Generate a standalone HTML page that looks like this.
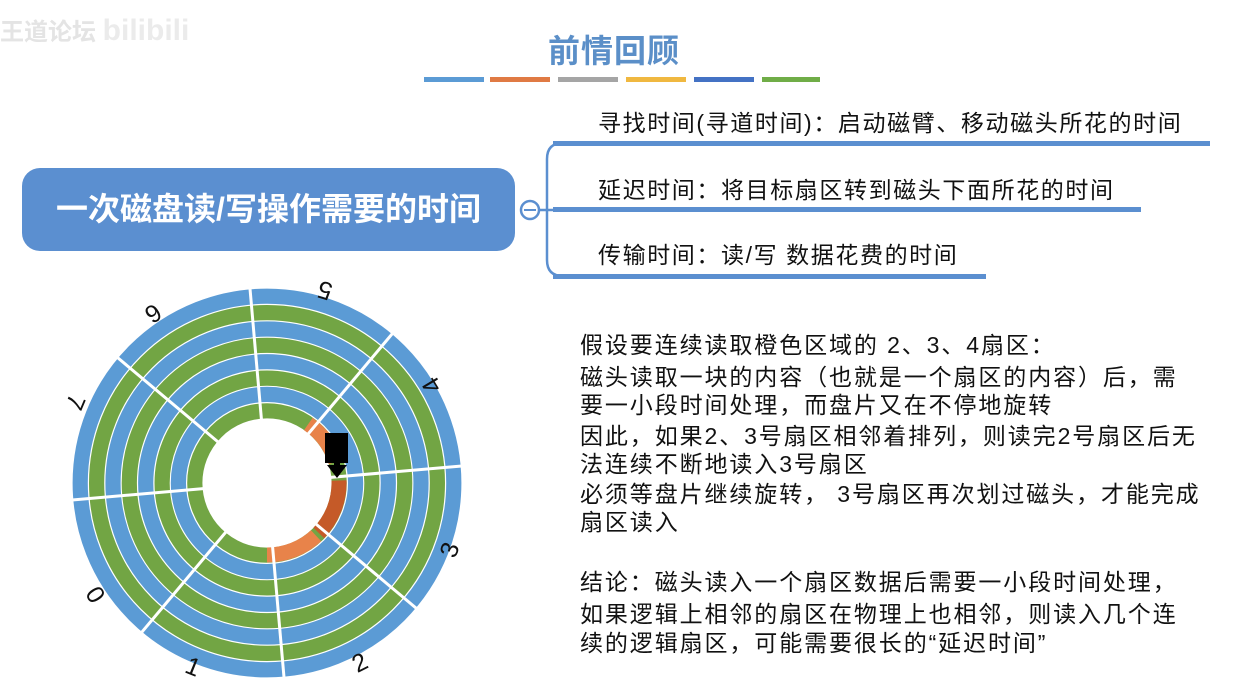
<!DOCTYPE html>
<html><head><meta charset="utf-8"><style>
html,body{margin:0;padding:0;background:#fff;}
body{width:1244px;height:696px;position:relative;overflow:hidden;font-family:"Liberation Sans","Noto Sans CJK SC",sans-serif;}
.abs{position:absolute;white-space:nowrap;}
.t{font-size:23px;color:#111;letter-spacing:1.9px;line-height:29px;}
.b{font-size:23px;color:#111;letter-spacing:1.6px;}
</style></head><body>
<div class="abs" style="left:0;top:12px;font-size:24px;color:#e4e4e4;font-weight:bold;">王道论坛 <span style="font-size:30px;color:#ebebeb">bilibili</span></div>
<div class="abs" style="left:548px;top:26px;font-size:32px;font-weight:bold;color:#5b8fc8;letter-spacing:1px;">前情回顾</div>
<div class="abs" style="left:424px;top:77px;width:60px;height:5px;background:#5b9bd5"></div>
<div class="abs" style="left:490px;top:77px;width:60px;height:5px;background:#e07a44"></div>
<div class="abs" style="left:558px;top:77px;width:60px;height:5px;background:#a5a5a5"></div>
<div class="abs" style="left:626px;top:77px;width:60px;height:5px;background:#f0b840"></div>
<div class="abs" style="left:694px;top:77px;width:60px;height:5px;background:#4472c4"></div>
<div class="abs" style="left:762px;top:77px;width:58px;height:5px;background:#70ad47"></div>

<div class="abs" style="left:22px;top:168px;width:493px;height:83px;border-radius:18px;background:#5b8fd0;"></div>
<div class="abs" style="left:22px;top:168px;width:493px;height:83px;line-height:83px;text-align:center;color:#fff;font-size:32px;font-weight:bold;">一次磁盘读/写操作需要的时间</div>

<svg class="abs" style="left:0;top:0" width="1244" height="696">
<path d="M553 143 H563 Q547 143 547 159 V260 Q547 276 563 276" fill="none" stroke="#5b8fd0" stroke-width="2.5"/>
<line x1="539" y1="210" x2="560" y2="210" stroke="#5b8fd0" stroke-width="2.5"/>
<circle cx="530" cy="210" r="9" fill="#fff" stroke="#5b8fd0" stroke-width="2.5"/>
<line x1="524" y1="210" x2="536" y2="210" stroke="#5b8fd0" stroke-width="2"/>
<rect x="553" y="141" width="657" height="5" fill="#5b8fd0"/>
<rect x="553" y="207" width="588" height="5" fill="#5b8fd0"/>
<rect x="553" y="274" width="433" height="5" fill="#5b8fd0"/>

<g>
<circle cx="267" cy="483" r="186.8" fill="none" stroke="#5b9bd5" stroke-width="15.2"/>
<circle cx="267" cy="483" r="170.4" fill="none" stroke="#72a544" stroke-width="15.2"/>
<circle cx="267" cy="483" r="154.0" fill="none" stroke="#5b9bd5" stroke-width="15.2"/>
<circle cx="267" cy="483" r="137.7" fill="none" stroke="#72a544" stroke-width="15.2"/>
<circle cx="267" cy="483" r="121.3" fill="none" stroke="#5b9bd5" stroke-width="15.2"/>
<circle cx="267" cy="483" r="104.9" fill="none" stroke="#72a544" stroke-width="15.2"/>
<circle cx="267" cy="483" r="88.6" fill="none" stroke="#5b9bd5" stroke-width="15.2"/>
<circle cx="267" cy="483" r="72.2" fill="none" stroke="#72a544" stroke-width="15.2"/>
<path d="M308.3 424.0 A72 72 0 0 1 335.9 461.9" fill="none" stroke="#e8834a" stroke-width="15"/>
<path d="M339.0 480.5 A72 72 0 0 1 318.8 533.0" fill="none" stroke="#c55a28" stroke-width="15"/>
<path d="M316.1 535.7 A72 72 0 0 1 267 555" fill="none" stroke="#e8834a" stroke-width="15"/>
<g transform="rotate(-5 267 483)" stroke="#fff" stroke-width="3">
<line x1="331" y1="483" x2="464" y2="483"/>
<line x1="203" y1="483" x2="70" y2="483"/>
<line x1="267" y1="419" x2="267" y2="286"/>
<line x1="267" y1="547" x2="267" y2="680"/>
<line x1="312" y1="438" x2="406" y2="344"/>
<line x1="222" y1="438" x2="128" y2="344"/>
<line x1="312" y1="528" x2="406" y2="622"/>
<line x1="222" y1="528" x2="128" y2="622"/>
</g>
<rect x="325" y="433" width="23" height="30" fill="#000"/>
<rect x="334" y="462" width="6" height="6" fill="#000"/>
<polygon points="327,465 347,465 337,478" fill="#000"/>
<g font-size="25" fill="#111" text-anchor="middle" dominant-baseline="central" font-family="Liberation Sans, sans-serif">
<text x="325" y="290" transform="rotate(-163 325 290)">5</text>
<text x="432" y="385" transform="rotate(-121 432 385)">4</text>
<text x="450" y="550" transform="rotate(-70 450 550)">3</text>
<text x="360" y="663" transform="rotate(-27 360 663)">2</text>
<text x="193" y="667" transform="rotate(22 193 667)">1</text>
<text x="95" y="595" transform="rotate(57 95 595)">0</text>
<text x="75" y="402" transform="rotate(113 75 402)">7</text>
<text x="153" y="313" transform="rotate(146 153 313)">6</text>
</g>
</g>
</svg>

<div class="abs b" style="left:598px;top:104px;">寻找时间(寻道时间)：启动磁臂、移动磁头所花的时间</div>
<div class="abs b" style="left:598px;top:171px;">延迟时间：将目标扇区转到磁头下面所花的时间</div>
<div class="abs b" style="left:598px;top:236px;">传输时间：读/写 数据花费的时间</div>

<div class="abs t" style="left:580px;top:331px;">假设要连续读取橙色区域的 2、3、4扇区：</div>
<div class="abs t" style="left:580px;top:363px;">磁头读取一块的内容（也就是一个扇区的内容）后，需</div>
<div class="abs t" style="left:580px;top:391px;">要一小段时间处理，而盘片又在不停地旋转</div>
<div class="abs t" style="left:580px;top:422px;">因此，如果2、3号扇区相邻着排列，则读完2号扇区后无</div>
<div class="abs t" style="left:580px;top:450px;">法连续不断地读入3号扇区</div>
<div class="abs t" style="left:580px;top:480px;">必须等盘片继续旋转， 3号扇区再次划过磁头，才能完成</div>
<div class="abs t" style="left:580px;top:508px;">扇区读入</div>
<div class="abs t" style="left:580px;top:568px;">结论：磁头读入一个扇区数据后需要一小段时间处理，</div>
<div class="abs t" style="left:580px;top:600px;">如果逻辑上相邻的扇区在物理上也相邻，则读入几个连</div>
<div class="abs t" style="left:580px;top:629px;">续的逻辑扇区，可能需要很长的“延迟时间”</div>
</body></html>
